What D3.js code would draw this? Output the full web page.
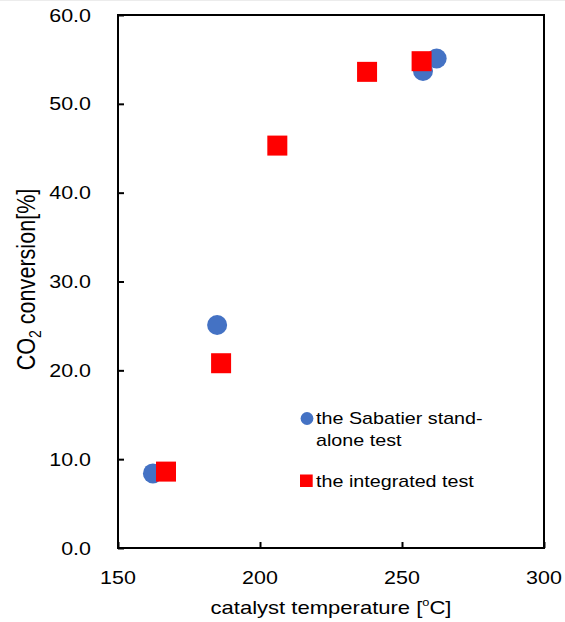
<!DOCTYPE html>
<html>
<head>
<meta charset="utf-8">
<script src="https://cdn.jsdelivr.net/npm/d3@7"></script>
<style>
  html, body { margin: 0; padding: 0; background: #fff; }
  svg { display: block; font-family: "Liberation Sans", Arial, sans-serif; }
</style>
</head>
<body>
<svg id="chart" width="565" height="622"></svg>
<script>
// DATA
const standaloneTemp = [162.3, 184.9, 257.4, 262.2];
const standaloneConv = [8.4, 25.1, 53.7, 55.1];

const integratedTemp = [166.9, 186.3, 206.1, 237.7, 256.9];
const integratedConv = [8.6, 20.8, 45.3, 53.6, 54.8];

const xTicks = [150, 200, 250, 300];
const yTicks = [0, 10, 20, 30, 40, 50, 60];

const legendLabels = [["the Sabatier stand-", "alone test"], ["the integrated test"]];

// LAYOUT
const margin = { left: 118, right: 544, top: 15, bottom: 548 };
const SX = 1.16; // text in the reference is stretched sideways
const blue = "#4472C4";
const red = "#FF0000";

const svg = d3.select("#chart");

svg.append("line")
  .attr("x1", 0).attr("x2", 565).attr("y1", 0.5).attr("y2", 0.5)
  .attr("stroke", "#ececec");

const x = d3.scaleLinear().domain([150, 300]).range([margin.left, margin.right]);
const y = d3.scaleLinear().domain([0, 60]).range([margin.bottom, margin.top]);

// stretched text helper
function stretchedText(px, py, str, size, anchor, rotate) {
  const g = svg.append("g")
    .attr("transform", `translate(${px},${py}) scale(${SX},1)${rotate ? " rotate(-90)" : ""}`);
  return g.append("text")
    .attr("font-size", size)
    .attr("text-anchor", anchor)
    .attr("fill", "#000")
    .text(str);
}

// AXES (inward ticks, frame)
const yAxis = d3.axisLeft(y).tickValues(yTicks).tickSize(-6).tickFormat("");
const xAxis = d3.axisBottom(x).tickValues(xTicks).tickSize(-6).tickFormat("");

svg.append("g")
  .attr("transform", `translate(${margin.left},0)`)
  .call(yAxis)
  .call(g => g.select(".domain").remove())
  .call(g => g.selectAll("line").attr("stroke", "#000").attr("stroke-width", 2));

svg.append("g")
  .attr("transform", `translate(0,${margin.bottom})`)
  .call(xAxis)
  .call(g => g.select(".domain").remove())
  .call(g => g.selectAll("line").attr("stroke", "#000").attr("stroke-width", 2));

svg.append("rect")
  .attr("x", margin.left).attr("y", margin.top)
  .attr("width", margin.right - margin.left)
  .attr("height", margin.bottom - margin.top)
  .attr("fill", "none")
  .attr("stroke", "#000")
  .attr("stroke-width", 2);

// tick labels
yTicks.forEach(v => {
  stretchedText(91, y(v) + 6.5, d3.format(".1f")(v), 18.5, "end");
});
xTicks.forEach(v => {
  stretchedText(x(v), 583.5, String(v), 18.5, "middle");
});

// axis titles
const xt = stretchedText(331, 614, "catalyst temperature [", 19, "middle");
xt.append("tspan").attr("font-size", 11).attr("dy", -8).text("o");
xt.append("tspan").attr("dy", 8).text("C]");

const yt = stretchedText(35, 279.5, "CO", 21.6, "middle", true);
yt.append("tspan").attr("font-size", 14).attr("dy", 5).text("2");
yt.append("tspan").attr("dy", -5).text(" conversion[%]");

// MARKS
svg.append("g").selectAll("circle")
  .data(standaloneTemp.map((t, i) => [t, standaloneConv[i]]))
  .join("circle")
  .attr("cx", d => x(d[0]))
  .attr("cy", d => y(d[1]))
  .attr("r", 10)
  .attr("fill", blue);

const sq = 20;
svg.append("g").selectAll("rect")
  .data(integratedTemp.map((t, i) => [t, integratedConv[i]]))
  .join("rect")
  .attr("x", d => x(d[0]) - sq / 2)
  .attr("y", d => y(d[1]) - sq / 2)
  .attr("width", sq)
  .attr("height", sq)
  .attr("fill", red);

// LEGEND
svg.append("circle").attr("cx", 307).attr("cy", 418.5).attr("r", 6.4).attr("fill", blue);
legendLabels[0].forEach((line, i) => {
  stretchedText(316, 424 + i * 22, line, 17, "start");
});
svg.append("rect").attr("x", 300).attr("y", 474.5).attr("width", 12.7).attr("height", 12.5).attr("fill", red);
stretchedText(316, 487, legendLabels[1][0], 17, "start");
</script>
</body>
</html>
